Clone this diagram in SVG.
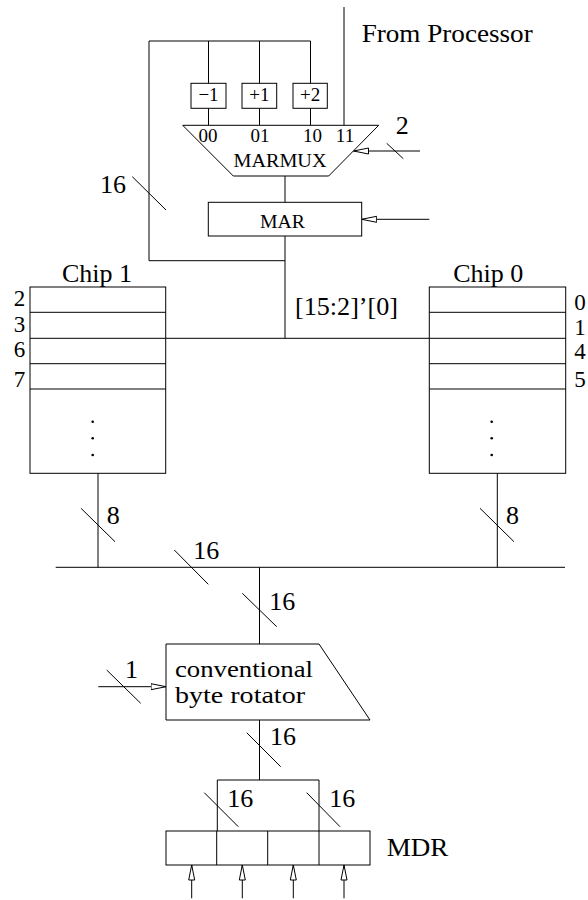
<svg xmlns="http://www.w3.org/2000/svg" width="588" height="900" viewBox="0 0 588 900">
<style>
.l{stroke:#000;stroke-width:1;fill:none}
.b{stroke:#000;stroke-width:1;fill:#fff}
text{font-family:'Liberation Serif','Times New Roman','DejaVu Serif',serif;fill:#000}
.t{font-size:26px}
.s{font-size:19px}
.n{font-size:23px}
.r{font-size:23px}
.m{text-anchor:middle}
</style>
<defs>
<marker id="ah" viewBox="0 0 16 8" refX="15.5" refY="4" markerWidth="16" markerHeight="8" markerUnits="userSpaceOnUse" orient="auto">
<path d="M0.5,1 L15.5,4 L0.5,7 z" fill="#fff" stroke="#000" stroke-width="1"/>
</marker>
</defs>
<rect width="588" height="900" fill="#fff"/>

<g id="connectors">
<polyline class="l" points="310.5,83.3 310.5,41 149,41 149,260.7 285,260.7"/>
<line class="l" x1="208.5" y1="41" x2="208.5" y2="83.3"/>
<line class="l" x1="259.5" y1="41" x2="259.5" y2="83.3"/>
<line class="l" x1="208.5" y1="108.3" x2="208.5" y2="125.3"/>
<line class="l" x1="259.5" y1="108.3" x2="259.5" y2="125.3"/>
<line class="l" x1="310.5" y1="108.3" x2="310.5" y2="125.3"/>
<line class="l" x1="344" y1="7" x2="344" y2="125.3"/>
<line class="l" x1="420" y1="151" x2="353.5" y2="151" marker-end="url(#ah)"/>
<line class="l" x1="386.7" y1="143.3" x2="403.3" y2="158.7"/>
<line class="l" x1="132.3" y1="176.7" x2="166" y2="210"/>
<line class="l" x1="285" y1="176" x2="285" y2="202.3"/>
<line class="l" x1="429.3" y1="219.3" x2="361.7" y2="219.3" marker-end="url(#ah)"/>
<line class="l" x1="285" y1="236" x2="285" y2="338.3"/>
<line class="l" x1="165.7" y1="338.3" x2="429.3" y2="338.3"/>
<line class="l" x1="98" y1="473.3" x2="98" y2="567.3"/>
<line class="l" x1="497.3" y1="473.3" x2="497.3" y2="567.3"/>
<line class="l" x1="81" y1="508.3" x2="115" y2="541.7"/>
<line class="l" x1="480" y1="508.3" x2="514" y2="541.7"/>
<line class="l" x1="55.7" y1="567.3" x2="565" y2="567.3"/>
<line class="l" x1="174.3" y1="550" x2="208.3" y2="584.3"/>
<line class="l" x1="259.5" y1="567.3" x2="259.5" y2="644"/>
<line class="l" x1="242.3" y1="593.3" x2="276.7" y2="626.7"/>
<line class="l" x1="98.3" y1="686.7" x2="166" y2="686.7" marker-end="url(#ah)"/>
<line class="l" x1="106.7" y1="670" x2="140.7" y2="703.3"/>
<line class="l" x1="259.5" y1="720" x2="259.5" y2="780"/>
<line class="l" x1="246.7" y1="732.7" x2="280.7" y2="766.7"/>
<polyline class="l" points="217.3,831 217.3,780 319,780 319,831"/>
<line class="l" x1="204.3" y1="792.7" x2="238.3" y2="826.7"/>
<line class="l" x1="306.7" y1="792.7" x2="340" y2="826.7"/>
<line class="l" x1="191.7" y1="898.3" x2="191.7" y2="865" marker-end="url(#ah)"/>
<line class="l" x1="242.3" y1="898.3" x2="242.3" y2="865" marker-end="url(#ah)"/>
<line class="l" x1="293.3" y1="898.3" x2="293.3" y2="865" marker-end="url(#ah)"/>
<line class="l" x1="344" y1="898.3" x2="344" y2="865" marker-end="url(#ah)"/>
</g>

<g id="labels">
<text class="t" x="361.7" y="41.7" textLength="171" lengthAdjust="spacingAndGlyphs">From Processor</text>
<text class="t m" x="402.2" y="133.5">2</text>
<text class="t" x="100" y="193.3">16</text>
<text class="t" x="295" y="315" textLength="103" lengthAdjust="spacingAndGlyphs">[15:2]’[0]</text>
<text class="t" x="106.7" y="524.3">8</text>
<text class="t" x="506" y="524.3">8</text>
<text class="t" x="193.3" y="559">16</text>
<text class="t" x="269.3" y="610">16</text>
<text class="t" x="125" y="678.3">1</text>
<text class="t" x="270" y="745">16</text>
<text class="t" x="227.3" y="806.7">16</text>
<text class="t" x="329.3" y="806.7">16</text>
</g>

<g id="dec">
<rect class="b" x="191" y="83.3" width="35" height="25"/>
<text class="s m" x="208.5" y="100.5">−1</text>
</g>
<g id="inc1">
<rect class="b" x="242" y="83.3" width="34.7" height="25"/>
<text class="s m" x="259.3" y="100.5">+1</text>
</g>
<g id="inc2">
<rect class="b" x="293" y="83.3" width="34.3" height="25"/>
<text class="s m" x="310.2" y="100.5">+2</text>
</g>

<g id="marmux">
<polygon class="b" points="182.7,125.3 378.7,125.3 328.7,176 233.3,176"/>
<text class="s m" x="208" y="141.7">00</text>
<text class="s m" x="260" y="141.7">01</text>
<text class="s m" x="312.5" y="141.7">10</text>
<text class="s m" x="345" y="141.7">11</text>
<text class="s m" x="280" y="166.7" textLength="93" lengthAdjust="spacingAndGlyphs">MARMUX</text>
</g>

<g id="mar">
<rect class="b" x="208.3" y="202.3" width="153.4" height="33.7"/>
<text class="s m" x="282.5" y="227.5" textLength="45" lengthAdjust="spacingAndGlyphs">MAR</text>
</g>

<g id="chip1">
<text class="t m" x="97" y="282.3">Chip 1</text>
<rect class="b" x="30" y="287" width="135.7" height="186.3"/>
<line class="l" x1="30" y1="312.3" x2="165.7" y2="312.3"/>
<line class="l" x1="30" y1="338.3" x2="165.7" y2="338.3"/>
<line class="l" x1="30" y1="363.7" x2="165.7" y2="363.7"/>
<line class="l" x1="30" y1="389" x2="165.7" y2="389"/>
<text class="n m" x="19.5" y="306">2</text>
<text class="n m" x="19.5" y="331.7">3</text>
<text class="n m" x="19.5" y="357">6</text>
<text class="n m" x="19.5" y="386.7">7</text>
<circle cx="92.7" cy="421.7" r="1.3"/>
<circle cx="92.7" cy="438.3" r="1.3"/>
<circle cx="92.7" cy="455" r="1.3"/>
</g>

<g id="chip0">
<text class="t m" x="488.3" y="282.3">Chip 0</text>
<rect class="b" x="429.3" y="287" width="136.4" height="186.3"/>
<line class="l" x1="429.3" y1="312.3" x2="565.7" y2="312.3"/>
<line class="l" x1="429.3" y1="338.3" x2="565.7" y2="338.3"/>
<line class="l" x1="429.3" y1="363.7" x2="565.7" y2="363.7"/>
<line class="l" x1="429.3" y1="389" x2="565.7" y2="389"/>
<text class="n m" x="580" y="310">0</text>
<text class="n m" x="580" y="335">1</text>
<text class="n m" x="580" y="359">4</text>
<text class="n m" x="580" y="386.7">5</text>
<circle cx="491.7" cy="421.7" r="1.3"/>
<circle cx="491.7" cy="438.3" r="1.3"/>
<circle cx="491.7" cy="455" r="1.3"/>
</g>

<g id="rotator">
<polygon class="b" points="166,644 319,644 370,720 166,720"/>
<text class="r" x="175" y="677.3" textLength="138" lengthAdjust="spacingAndGlyphs">conventional</text>
<text class="r" x="175" y="702.7" textLength="130" lengthAdjust="spacingAndGlyphs">byte rotator</text>
</g>

<g id="mdr">
<rect class="b" x="166" y="831" width="204" height="34"/>
<line class="l" x1="216.7" y1="831" x2="216.7" y2="865"/>
<line class="l" x1="267.7" y1="831" x2="267.7" y2="865"/>
<line class="l" x1="319" y1="831" x2="319" y2="865"/>
<text class="t" x="386.7" y="855.7" textLength="61.6" lengthAdjust="spacingAndGlyphs">MDR</text>
</g>
</svg>
